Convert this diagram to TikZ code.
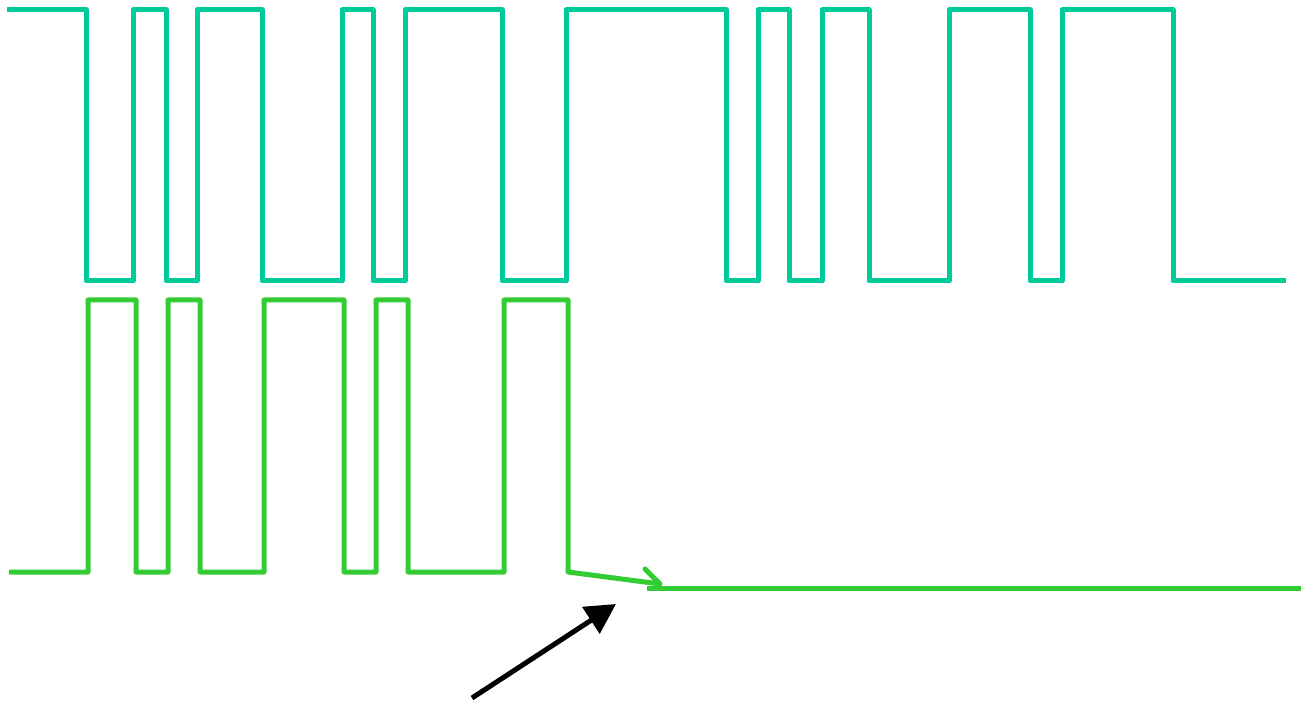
\documentclass[tikz,border=0pt]{standalone}
\usepackage{tikz}
\usetikzlibrary{arrows.meta}
\definecolor{signal_teal}{RGB}{0,204,153}
\definecolor{signal_green}{RGB}{51,204,51}
\tikzset{
    wave/.style={line width=0.1cm, line join=round},
}

\begin{document}
\begin{tikzpicture}[x=0.02cm, y=-0.02cm]
        \useasboundingbox (0,0) rectangle (1301,705);
        % upper signal
        \draw[wave, signal_teal] (7,10) -| (86,281) -| (133,10) -| (166,281) -| (197,10)
            -| (262,281) -| (342,10) -| (373,281) -| (405,10) -| (502,281) -| (566,10)
            -| (726,281) -| (758,10) -| (789,281) -| (822,10) -| (869,281) -| (949,10)
            -| (1030,281) -| (1062,10) -| (1173,281) -- (1286,281);
        % lower signal
        \coordinate (drop) at (568,572);
        \coordinate (slip) at (660,584);
        \draw[wave, signal_green] (9,572) -| (88,300) -| (136,572) -| (168,300) -| (200,572)
            -| (264,300) -| (344,572) -| (376,300) -| (408,572) -| (504,300) -| (drop) -- (slip);
        \draw[wave, signal_green, line cap=round] (645,569) -- (slip);
        \draw[wave, signal_green] (647,588) -- (1301,588);
        % pointer
        \coordinate (tail) at (472,698);
        \coordinate (head) at (616,604);
        \draw[line width=0.1cm, -{Triangle[length=0.6cm, width=0.62cm]}] (tail) -- (head);
\end{tikzpicture}
\end{document}
